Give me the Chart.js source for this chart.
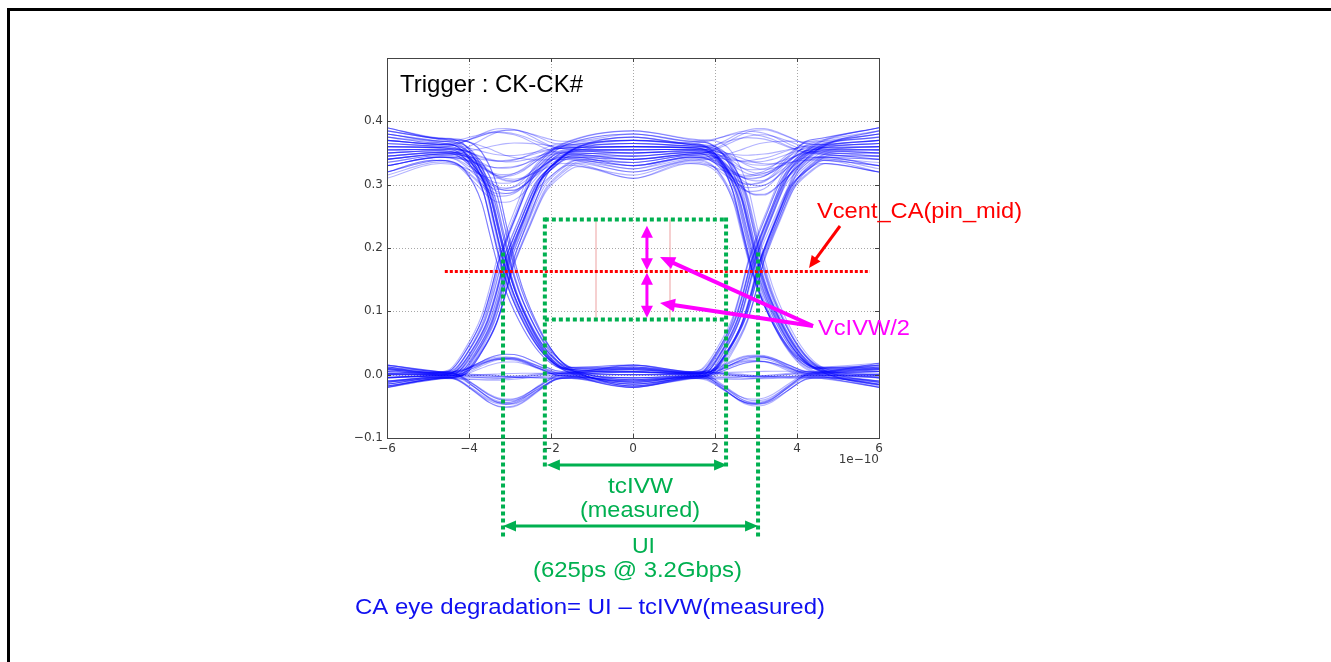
<!DOCTYPE html>
<html>
<head>
<meta charset="utf-8">
<script src="https://cdn.jsdelivr.net/npm/chart.js@4"></script>
<style>
  html, body { margin: 0; padding: 0; background: #fff; }
  #wrap { width: 1331px; height: 662px; position: relative; }
</style>
</head>
<body>
<div id="wrap"><canvas id="c"></canvas></div>
<script>
// ---------- axis data ----------
const xTickLabels = ['\u22126', '\u22124', '\u22122', '0', '2', '4', '6'];
const yTickLabels = ['\u22120.1', '0.0', '0.1', '0.2', '0.3', '0.4', ''];
const xOffsetLabel = '1e\u221210';

// ---------- eye-diagram shape ----------
const edgeCenters = [-3.1, 3.0];                 // crossing points (x 1e-10 s)
const edgeOffsets = [-1.6, -1.2, -0.8, -0.4, -0.2, 0, 0.2, 0.4, 0.8, 1.2, 1.6];
const riseShape   = [0, 0.01, 0.1, 0.24, 0.36, 0.5, 0.6, 0.69, 0.86, 0.94, 0.985];
const fallShape   = [1, 0.995, 0.95, 0.8, 0.65, 0.5, 0.38, 0.29, 0.15, 0.06, 0.02];
const isiShape    = [0, 0.08, 0.45, 0.85, 0.97, 1, 0.97, 0.85, 0.45, 0.08, 0];
const knotHigh = 0.357, knotLow = 0.0;
const knotKeepHigh = 0.5, knotKeepLow = 0.3;

// each trace: bits, level bit1, level bit2, level bit3, shift edge1, shift edge2, isi edge1, isi edge2
const traces = [
  ['HHH', .36, .35, .37, 0, 0, -.07, .03],
  ['HHH', .34, .37, .35, 0, 0, .03, -.06],
  ['HHH', .38, .33, .36, 0, 0, -.05, -.04],
  ['HHH', .35, .36, .34, 0, 0, -.03, .02],
  ['HHH', .33, .345, .38, 0, 0, -.02, -.07],
  ['HHH', .37, .38, .33, 0, 0, .02, -.03],
  ['HHH', .32, .35, .365, 0, 0, -.06, -.01],
  ['HHH', .39, .32, .35, 0, 0, -.01, -.05],
  ['HHH', .355, .365, .345, 0, 0, -.045, -.025],
  ['HHH', .345, .34, .36, 0, 0, -.055, .025],
  ['HHH', .365, .355, .39, 0, 0, .03, -.055],
  ['HHH', .31, .37, .355, 0, 0, -.035, -.045],
  ['HHH', .375, .335, .37, 0, 0, -.065, -.015],
  ['HHH', .34, .36, .325, 0, 0, -.015, -.065],

  ['LLL', .01, -.01, .005, 0, 0, .028, -.045],
  ['LLL', -.015, .005, -.01, 0, 0, -.045, .03],
  ['LLL', .005, -.02, .015, 0, 0, 0, -.005],
  ['LLL', -.005, .01, -.02, 0, 0, .025, 0],
  ['LLL', .015, -.005, 0, 0, 0, -.04, .026],
  ['LLL', -.02, 0, .01, 0, 0, -.005, -.048],
  ['LLL', 0, .015, -.005, 0, 0, .03, -.004],
  ['LLL', -.01, -.015, .005, 0, 0, -.048, .022],
  ['LLL', .008, -.008, -.012, 0, 0, .026, 0],
  ['LLL', -.012, .012, .008, 0, 0, -.003, .028],
  ['LLL', .002, -.012, -.016, 0, 0, -.042, -.043],
  ['LLL', -.018, .004, .012, 0, 0, .022, -.046],
  ['LLL', .012, -.018, -.002, 0, 0, -.046, .024],
  ['LLL', -.004, .008, .018, 0, 0, .001, -.006],

  ['HHL', .35, .36, -.01, 0, -.1, -.04, 0],
  ['HHL', .37, .34, .005, 0, .05, .025, 0],
  ['HHL', .33, .37, -.02, 0, .12, -.06, 0],
  ['HHL', .36, .35, .01, 0, -.05, -.02, 0],
  ['HHL', .385, .33, 0, 0, 0, -.05, 0],
  ['HHL', .34, .365, -.015, 0, .08, .01, 0],
  ['HHL', .355, .31, .015, 0, -.12, -.035, 0],
  ['HHL', .32, .355, -.005, 0, .15, -.065, 0],
  ['HHL', .36, .375, .008, 0, -.18, -.025, 0],
  ['HHL', .33, .345, -.012, 0, .2, -.045, 0],
  ['HHL', .38, .355, .002, 0, -.03, .02, 0],
  ['HHL', .345, .325, -.018, 0, .1, -.055, 0],
  ['HHL', .37, .36, .012, 0, -.15, -.015, 0],
  ['HHL', .315, .34, -.004, 0, .04, -.07, 0],

  ['LLH', -.01, .005, .36, 0, .1, .028, 0],
  ['LLH', .01, -.015, .34, 0, -.08, -.045, 0],
  ['LLH', -.02, .01, .38, 0, .03, -.004, 0],
  ['LLH', .005, -.005, .35, 0, -.12, .025, 0],
  ['LLH', .015, 0, .33, 0, .06, -.042, 0],
  ['LLH', -.005, -.02, .37, 0, -.02, 0, 0],
  ['LLH', 0, .015, .345, 0, .13, .03, 0],
  ['LLH', -.015, -.01, .39, 0, -.06, -.047, 0],
  ['LLH', .008, -.008, .355, 0, .18, .024, 0],
  ['LLH', -.012, .012, .375, 0, -.17, -.044, 0],
  ['LLH', .002, -.012, .335, 0, .05, -.002, 0],
  ['LLH', -.018, .004, .365, 0, -.1, .027, 0],
  ['LLH', .012, -.018, .385, 0, .2, -.04, 0],
  ['LLH', -.004, .008, .32, 0, -.04, -.006, 0],

  ['HLL', .36, -.01, .01, -.08, 0, 0, .028],
  ['HLL', .34, .01, -.015, .1, 0, 0, -.045],
  ['HLL', .38, -.02, .005, .02, 0, 0, 0],
  ['HLL', .35, .005, -.02, -.13, 0, 0, .024],
  ['HLL', .33, -.005, .015, .06, 0, 0, -.04],
  ['HLL', .37, .015, -.005, -.03, 0, 0, -.006],
  ['HLL', .345, -.015, 0, .14, 0, 0, .03],
  ['HLL', .39, 0, -.01, -.1, 0, 0, -.048],
  ['HLL', .355, -.008, -.012, .18, 0, 0, .025],
  ['HLL', .375, .012, .008, -.17, 0, 0, -.044],
  ['HLL', .335, -.012, -.016, .04, 0, 0, -.002],
  ['HLL', .365, .004, .012, -.06, 0, 0, .027],
  ['HLL', .385, -.018, -.002, .2, 0, 0, -.042],
  ['HLL', .32, .008, .018, -.19, 0, 0, .001],

  ['LHH', -.01, .36, .35, .05, 0, 0, -.05],
  ['LHH', .01, .34, .37, -.1, 0, 0, .03],
  ['LHH', -.02, .37, .33, .12, 0, 0, -.07],
  ['LHH', .005, .35, .36, -.04, 0, 0, -.02],
  ['LHH', .015, .33, .385, .08, 0, 0, -.04],
  ['LHH', -.005, .38, .34, -.12, 0, 0, .02],
  ['LHH', 0, .345, .39, 0, 0, 0, -.06],
  ['LHH', -.015, .31, .355, .15, 0, 0, -.03],
  ['LHH', .008, .355, .365, -.18, 0, 0, -.035],
  ['LHH', -.012, .375, .345, .19, 0, 0, .025],
  ['LHH', .002, .335, .375, -.07, 0, 0, -.055],
  ['LHH', -.018, .365, .32, .06, 0, 0, -.015],
  ['LHH', .012, .385, .355, -.15, 0, 0, -.045],
  ['LHH', -.004, .32, .38, .17, 0, 0, .01],

  ['HLH', .36, -.01, .35, -.05, .08, 0, 0],
  ['HLH', .34, .01, .37, .1, -.1, 0, 0],
  ['HLH', .38, -.02, .33, 0, .03, 0, 0],
  ['HLH', .35, .005, .36, -.12, -.05, 0, 0],
  ['HLH', .33, -.005, .38, .07, .12, 0, 0],
  ['HLH', .37, .015, .34, -.02, -.13, 0, 0],
  ['HLH', .345, -.015, .39, .13, 0, 0, 0],
  ['HLH', .39, 0, .32, -.09, .06, 0, 0],
  ['HLH', .355, -.008, .365, .18, -.17, 0, 0],
  ['HLH', .375, .012, .345, -.17, .19, 0, 0],
  ['HLH', .335, -.012, .375, .04, -.06, 0, 0],
  ['HLH', .365, .004, .32, -.07, .1, 0, 0],
  ['HLH', .385, -.018, .355, .2, -.2, 0, 0],
  ['HLH', .32, .008, .385, -.19, .16, 0, 0],

  ['LHL', -.01, .36, 0, .04, -.07, 0, 0],
  ['LHL', .01, .34, -.01, -.11, .1, 0, 0],
  ['LHL', -.02, .37, .01, .09, .02, 0, 0],
  ['LHL', .005, .35, -.02, -.03, -.12, 0, 0],
  ['LHL', .015, .33, .015, .13, .07, 0, 0],
  ['LHL', -.005, .38, -.005, -.14, -.02, 0, 0],
  ['LHL', 0, .345, .005, .01, .14, 0, 0],
  ['LHL', -.015, .315, -.015, -.07, -.09, 0, 0],
  ['LHL', .008, .355, -.012, -.18, .17, 0, 0],
  ['LHL', -.012, .375, .008, .19, -.19, 0, 0],
  ['LHL', .002, .335, -.016, -.06, .05, 0, 0],
  ['LHL', -.018, .365, .012, .07, -.1, 0, 0],
  ['LHL', .012, .385, -.002, -.2, .2, 0, 0],
  ['LHL', -.004, .325, .018, .16, -.16, 0, 0]
];

// ---------- annotation anchors (data units) ----------
const eyeBox = { x0: -2.15, x1: 2.27, y0: 0.087, y1: 0.245 };
const uiLines = { x0: -3.17, x1: 3.05, yTop: 0.193 };
const vcent = { y: 0.163, x0: -4.59, x1: 5.78 };
const vArrowX = 0.34;
const vArrowUp = [0.235, 0.165];
const vArrowDn = [0.161, 0.090];

// ---------- build datasets ----------
function knotOf(b) { return b === 'H' ? knotHigh : knotLow; }
function keepOf(b) { return b === 'H' ? knotKeepHigh : knotKeepLow; }
function addEdge(pts, c, a, b, from, to, isi) {
  for (let k = 0; k < edgeOffsets.length; k++) {
    let f, extra = 0;
    if (a === 'L' && b === 'H') f = riseShape[k];
    else if (a === 'H' && b === 'L') f = 1 - fallShape[k];
    else { f = riseShape[k]; extra = isi * isiShape[k]; }
    pts.push({ x: c + edgeOffsets[k], y: from + f * (to - from) + extra });
  }
}
function buildTrace(row) {
  const bits = row[0];
  const lv = [row[1], row[2], row[3]];
  const comp = lv.map((v, i) => knotOf(bits[i]) + keepOf(bits[i]) * (v - knotOf(bits[i])));
  const pts = [{ x: -6, y: lv[0] }];
  addEdge(pts, edgeCenters[0] + row[4], bits[0], bits[1], comp[0], comp[1], row[6]);
  pts.push({ x: 0, y: lv[1] });
  addEdge(pts, edgeCenters[1] + row[5], bits[1], bits[2], comp[1], comp[2], row[7]);
  pts.push({ x: 6, y: lv[2] });
  return pts;
}
const datasets = traces.map(r => ({
  data: buildTrace(r),
  borderColor: 'rgba(0,0,255,0.3)',
  borderWidth: 1.1,
  pointRadius: 0,
  fill: false,
  cubicInterpolationMode: 'monotone',
  clip: 0
}));

// ---------- drawing helpers ----------
const GREEN = 'rgb(0,176,80)', RED = '#ff0000', MAG = '#ff00ff', BLUE = '#1010f0';
function head(ctx, tx, ty, fx, fy, len, hw, color) {
  const a = Math.atan2(ty - fy, tx - fx);
  ctx.save();
  ctx.translate(tx, ty); ctx.rotate(a);
  ctx.fillStyle = color;
  ctx.beginPath(); ctx.moveTo(0, 0); ctx.lineTo(-len, -hw); ctx.lineTo(-len, hw); ctx.closePath(); ctx.fill();
  ctx.restore();
}
function seg(ctx, x0, y0, x1, y1, color, w, dash) {
  ctx.save();
  ctx.strokeStyle = color; ctx.lineWidth = w; ctx.setLineDash(dash || []);
  ctx.beginPath(); ctx.moveTo(x0, y0); ctx.lineTo(x1, y1); ctx.stroke();
  ctx.restore();
}
function arrow(ctx, x0, y0, x1, y1, color, w, len, hw, both) {
  const a = Math.atan2(y1 - y0, x1 - x0);
  const sx = both ? x0 + Math.cos(a) * len * 0.8 : x0, sy = both ? y0 + Math.sin(a) * len * 0.8 : y0;
  seg(ctx, sx, sy, x1 - Math.cos(a) * len * 0.8, y1 - Math.sin(a) * len * 0.8, color, w);
  head(ctx, x1, y1, x0, y0, len, hw, color);
  if (both) head(ctx, x0, y0, x1, y1, len, hw, color);
}
function txt(ctx, s, x, y, size, color, w) {
  ctx.save();
  ctx.font = size + 'px "Liberation Sans", Arial, sans-serif';
  const m = ctx.measureText(s).width;
  ctx.translate(x, y); ctx.scale(w / m, 1);
  ctx.fillStyle = color; ctx.textBaseline = 'alphabetic'; ctx.textAlign = 'left';
  ctx.fillText(s, 0, 0);
  ctx.restore();
}

const gridPlugin = {
  id: 'mplgrid',
  beforeDatasetsDraw(chart) {
    const { ctx, chartArea: a, scales: { x, y } } = chart;
    ctx.save();
    ctx.strokeStyle = '#a8a8a8'; ctx.lineWidth = 1; ctx.setLineDash([1, 2]);
    x.ticks.forEach(t => { const p = Math.round(x.getPixelForValue(t.value)) + 0.5;
      ctx.beginPath(); ctx.moveTo(p, a.top); ctx.lineTo(p, a.bottom); ctx.stroke(); });
    y.ticks.forEach(t => { const p = Math.round(y.getPixelForValue(t.value)) + 0.5;
      ctx.beginPath(); ctx.moveTo(a.left, p); ctx.lineTo(a.right, p); ctx.stroke(); });
    ctx.restore();
  },
  afterDraw(chart) {
    const { ctx, chartArea: a, scales: { x, y } } = chart;
    const X = v => x.getPixelForValue(v), Y = v => y.getPixelForValue(v);
    // page frame
    ctx.fillStyle = '#000';
    ctx.fillRect(7, 8, 3, 654);
    ctx.fillRect(7, 8, 1324, 3);
    // plot frame + inner ticks
    ctx.save();
    ctx.strokeStyle = '#444'; ctx.lineWidth = 1;
    ctx.strokeRect(Math.round(a.left) + 0.5, Math.round(a.top) + 0.5, Math.round(a.right - a.left), Math.round(a.bottom - a.top));
    ctx.beginPath();
    x.ticks.forEach(t => { const p = Math.round(X(t.value)) + 0.5;
      ctx.moveTo(p, a.bottom); ctx.lineTo(p, a.bottom - 4); ctx.moveTo(p, a.top); ctx.lineTo(p, a.top + 4); });
    y.ticks.forEach(t => { const p = Math.round(Y(t.value)) + 0.5;
      ctx.moveTo(a.left, p); ctx.lineTo(a.left + 4, p); ctx.moveTo(a.right, p); ctx.lineTo(a.right - 4, p); });
    ctx.stroke();
    ctx.fillStyle = '#3a3a3a'; ctx.font = '12px "DejaVu Sans"'; ctx.textAlign = 'right'; ctx.textBaseline = 'middle';
    ctx.fillText(xOffsetLabel, a.right, a.bottom + 22);
    ctx.restore();

    // pink thin lines inside eye box
    seg(ctx, 596, Y(eyeBox.y1), 596, Y(eyeBox.y0), 'rgba(235,150,150,0.6)', 1.5);
    seg(ctx, 670, Y(eyeBox.y1), 670, Y(eyeBox.y0), 'rgba(235,150,150,0.6)', 1.5);

    // red Vcent line
    seg(ctx, X(vcent.x0), Y(vcent.y), X(vcent.x1), Y(vcent.y), RED, 3, [3, 2]);

    // green eye box
    const bl = X(eyeBox.x0), br = X(eyeBox.x1), bt = Y(eyeBox.y1), bb = Y(eyeBox.y0);
    seg(ctx, bl, bt, br, bt, GREEN, 4, [4, 3]);
    seg(ctx, bl, bb, br, bb, GREEN, 4, [4, 3]);
    seg(ctx, bl, bt - 2, bl, 467, GREEN, 4, [4, 3]);
    seg(ctx, br, bt - 2, br, 467, GREEN, 4, [4, 3]);
    // UI lines
    seg(ctx, X(uiLines.x0), Y(uiLines.yTop), X(uiLines.x0), 537, GREEN, 4, [4, 3]);
    seg(ctx, X(uiLines.x1), Y(uiLines.yTop), X(uiLines.x1), 537, GREEN, 4, [4, 3]);
    // horizontal arrows
    arrow(ctx, bl + 2, 465, br + 1, 465, GREEN, 3, 13, 5.5, true);
    arrow(ctx, X(uiLines.x0), 526, X(uiLines.x1), 526, GREEN, 3, 13, 5.5, true);

    // magenta vertical double arrows
    const vx = X(vArrowX);
    arrow(ctx, vx, Y(vArrowUp[0]), vx, Y(vArrowUp[1]), MAG, 3, 12, 6, true);
    arrow(ctx, vx, Y(vArrowDn[0]), vx, Y(vArrowDn[1]), MAG, 3, 12, 6, true);
    // magenta pointers
    arrow(ctx, 813, 326, 660, 257, MAG, 4, 15, 6.5, false);
    arrow(ctx, 813, 326, 660, 303, MAG, 4, 15, 6.5, false);
    // red pointer
    arrow(ctx, 840, 226, 809, 268, RED, 3, 12, 5.5, false);

    // texts
    txt(ctx, 'Trigger : CK-CK#', 400, 92, 24, '#000', 183);
    txt(ctx, 'Vcent_CA(pin_mid)', 817, 218, 22, RED, 205);
    txt(ctx, 'VcIVW/2', 818, 335, 22, MAG, 92);
    txt(ctx, 'tcIVW', 608, 493, 22, GREEN, 65);
    txt(ctx, '(measured)', 580, 517, 22, GREEN, 120);
    txt(ctx, 'UI', 632, 553, 22, GREEN, 23);
    txt(ctx, '(625ps @ 3.2Gbps)', 533, 577, 22, GREEN, 209);
    txt(ctx, 'CA eye degradation= UI \u2013 tcIVW(measured)', 355, 614, 22, BLUE, 470);
  }
};

new Chart(document.getElementById('c'), {
  type: 'line',
  data: { datasets },
  options: {
    responsive: true,
    maintainAspectRatio: false,
    animation: false,
    events: [],
    layout: { padding: { left: 347, right: 452, top: 58, bottom: 194 } },
    plugins: { legend: { display: false }, tooltip: { enabled: false } },
    scales: {
      x: {
        type: 'linear', min: -6, max: 6,
        ticks: { stepSize: 2, autoSkip: false, maxRotation: 0, padding: 4, color: '#3a3a3a',
                 font: { family: 'DejaVu Sans', size: 12 }, callback: (v, i) => xTickLabels[i] },
        grid: { display: false, drawTicks: false }, border: { display: false },
        afterFit: s => { s.height = 30; }
      },
      y: {
        type: 'linear', min: -0.1, max: 0.5,
        ticks: { stepSize: 0.1, autoSkip: false, padding: 4, color: '#3a3a3a',
                 font: { family: 'DejaVu Sans', size: 12 }, callback: (v, i) => yTickLabels[i] },
        grid: { display: false, drawTicks: false }, border: { display: false },
        afterFit: s => { s.width = 40; }
      }
    }
  },
  plugins: [gridPlugin]
});
</script>
</body>
</html>
